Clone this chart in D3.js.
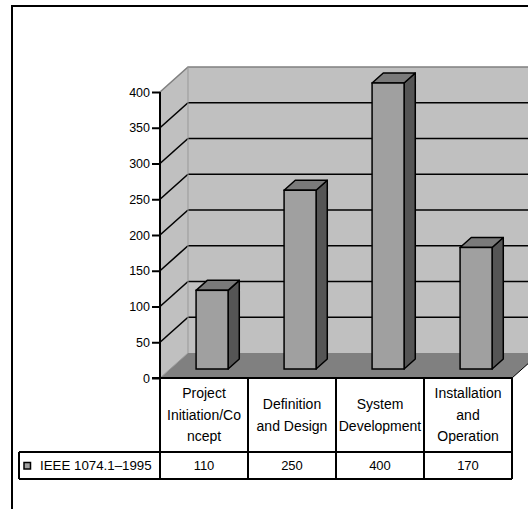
<!DOCTYPE html>
<html>
<head>
<meta charset="utf-8">
<script src="https://cdn.jsdelivr.net/npm/d3@7"></script>
<style>
  body { margin: 0; background: #fff; }
  svg { display: block; font-family: "Liberation Sans", Arial, sans-serif; }
</style>
</head>
<body>
<div id="chart"></div>
<script>
const width = 528;
const height = 509;

// data
const categories = ['Project Initiation/Concept', 'Definition and Design', 'System Development', 'Installation and Operation'];
const categoryLines = [
  ['Project', 'Initiation/Co', 'ncept'],
  ['Definition', 'and Design'],
  ['System', 'Development'],
  ['Installation', 'and', 'Operation']
];
const seriesName = 'IEEE 1074.1\u20131995';
const values = [110, 250, 400, 170];
const yTicks = [0, 50, 100, 150, 200, 250, 300, 350, 400];

// 3d depth offsets
const depthX = 28, depthY = -25;
const barZ0 = 0.36, barZ1 = 0.76;
const barW = 32;

const svg = d3.select('#chart')
  .append('svg')
  .attr('width', width)
  .attr('height', height);

const x = d3.scaleBand()
  .domain(categories)
  .range([160, 512]);

const y = d3.scaleLinear()
  .domain([0, 400])
  .range([378, 92]);

function px(xx, z) { return xx + depthX * z; }
function py(yy, z) { return yy + depthY * z; }
function pts(arr) { return arr.map(function(p){ return p.join(','); }).join(' '); }

// outer frame
svg.append('path')
  .attr('d', 'M12,' + height + ' L12,6 L' + width + ',6')
  .attr('fill', 'none')
  .attr('stroke', '#000')
  .attr('stroke-width', 2);

const x0 = x.range()[0], x1 = x.range()[1];
const wallRight = px(x1, 1);

// back wall
svg.append('rect')
  .attr('x', px(x0, 1))
  .attr('y', py(y(400), 1))
  .attr('width', wallRight - px(x0, 1))
  .attr('height', y(0) - y(400))
  .attr('fill', '#c0c0c0');

// left wall
svg.append('polygon')
  .attr('points', pts([[x0, y(400)], [px(x0, 1), py(y(400), 1)], [px(x0, 1), py(y(0), 1)], [x0, y(0)]]))
  .attr('fill', '#c0c0c0');

// floor
svg.append('polygon')
  .attr('points', pts([[x0, y(0)], [x1, y(0)], [px(x1, 1), py(y(0), 1)], [px(x0, 1), py(y(0), 1)]]))
  .attr('fill', '#808080');

// gridlines
const grid = svg.append('g');
yTicks.filter(function(d){ return d > 0 && d < 400; }).forEach(function(d){
  grid.append('line')
    .attr('x1', px(x0, 1)).attr('x2', wallRight)
    .attr('y1', py(y(d), 1)).attr('y2', py(y(d), 1))
    .attr('stroke', '#000').attr('stroke-width', 1.6);
  grid.append('line')
    .attr('x1', x0).attr('x2', px(x0, 1))
    .attr('y1', y(d)).attr('y2', py(y(d), 1))
    .attr('stroke', '#000').attr('stroke-width', 1.6);
});

// wall edges
svg.append('path')
  .attr('d', 'M' + x0 + ',' + y(400) + ' L' + px(x0, 1) + ',' + py(y(400), 1) + ' L' + wallRight + ',' + py(y(400), 1))
  .attr('fill', 'none').attr('stroke', '#808080').attr('stroke-width', 1.6);
svg.append('path')
  .attr('d', 'M' + px(x0, 1) + ',' + py(y(400), 1) + ' L' + px(x0, 1) + ',' + py(y(0), 1) + ' L' + x0 + ',' + y(0))
  .attr('fill', 'none').attr('stroke', '#999').attr('stroke-width', 1);

// bars
const bars = svg.append('g')
  .selectAll('.bar')
  .data(values)
  .enter()
  .append('g')
  .attr('class', 'bar');

function barLeft(i) { return x(categories[i]) + 26; }

bars.append('polygon')
  .attr('points', function(d, i){
    const l = barLeft(i), r = l + barW;
    return pts([[px(r, barZ0), py(y(0), barZ0)], [px(r, barZ1), py(y(0), barZ1)], [px(r, barZ1), py(y(d), barZ1)], [px(r, barZ0), py(y(d), barZ0)]]);
  })
  .attr('fill', '#555555').attr('stroke', '#000').attr('stroke-width', 1.5).attr('stroke-linejoin', 'round');

bars.append('polygon')
  .attr('points', function(d, i){
    const l = barLeft(i), r = l + barW;
    return pts([[px(l, barZ0), py(y(d), barZ0)], [px(r, barZ0), py(y(d), barZ0)], [px(r, barZ1), py(y(d), barZ1)], [px(l, barZ1), py(y(d), barZ1)]]);
  })
  .attr('fill', '#7a7a7a').attr('stroke', '#000').attr('stroke-width', 1.5).attr('stroke-linejoin', 'round');

bars.append('rect')
  .attr('x', function(d, i){ return px(barLeft(i), barZ0); })
  .attr('y', function(d){ return py(y(d), barZ0); })
  .attr('width', barW)
  .attr('height', function(d){ return y(0) - y(d); })
  .attr('fill', '#a0a0a0').attr('stroke', '#000').attr('stroke-width', 1.5);

// floor right edge
svg.append('line')
  .attr('x1', x1).attr('y1', y(0))
  .attr('x2', px(x1, 1)).attr('y2', py(y(0), 1))
  .attr('stroke', '#000').attr('stroke-width', 1);

// y axis
const yAxis = d3.axisLeft(y)
  .tickValues(yTicks)
  .tickSize(8)
  .tickPadding(2)
  .tickFormat(d3.format('d'));

const ax = svg.append('g')
  .attr('transform', 'translate(' + x0 + ',0)')
  .call(yAxis);
ax.select('.domain').remove();
ax.selectAll('.tick line').attr('stroke', '#000').attr('stroke-width', 2);
ax.selectAll('.tick text')
  .attr('font-family', '"Liberation Sans", Arial, sans-serif')
  .attr('font-size', 12.5)
  .attr('fill', '#000');

// data table
const rowTop = y(0), rowMid = 452, rowBot = 479, legendLeft = 19;
const table = svg.append('g')
  .attr('stroke', '#000').attr('stroke-width', 2).attr('fill', 'none');
table.append('line').attr('x1', x0 - 8).attr('x2', x1).attr('y1', rowTop).attr('y2', rowTop);
table.append('line').attr('x1', x0).attr('x2', x0).attr('y1', y(400)).attr('y2', rowBot);
table.append('line').attr('x1', legendLeft).attr('x2', x1).attr('y1', rowMid).attr('y2', rowMid);
table.append('line').attr('x1', legendLeft).attr('x2', x1).attr('y1', rowBot).attr('y2', rowBot);
table.append('line').attr('x1', legendLeft).attr('x2', legendLeft).attr('y1', rowMid).attr('y2', rowBot);
categories.forEach(function(c){
  const r = x(c) + x.bandwidth();
  table.append('line').attr('x1', r).attr('x2', r).attr('y1', rowTop).attr('y2', rowBot);
});

// category labels
const lineH = 21.5;
const labels = svg.append('g')
  .selectAll('.cat')
  .data(categoryLines)
  .enter()
  .append('text')
  .attr('class', 'cat')
  .attr('text-anchor', 'middle')
  .attr('font-size', 14)
  .attr('fill', '#000');
labels.each(function(lines, i){
  const cx = x(categories[i]) + x.bandwidth() / 2;
  const cy = (rowTop + rowMid) / 2 - (lines.length - 1) * lineH / 2;
  d3.select(this).selectAll('tspan')
    .data(lines)
    .enter()
    .append('tspan')
    .attr('x', cx)
    .attr('y', function(d, j){ return cy + j * lineH; })
    .attr('dy', '0.35em')
    .text(function(d){ return d; });
});

// values row
svg.append('g')
  .selectAll('.val')
  .data(values)
  .enter()
  .append('text')
  .attr('x', function(d, i){ return x(categories[i]) + x.bandwidth() / 2; })
  .attr('y', (rowMid + rowBot) / 2)
  .attr('dy', '0.35em')
  .attr('text-anchor', 'middle')
  .attr('font-size', 13)
  .text(function(d){ return d; });

// legend
svg.append('rect')
  .attr('x', 24).attr('y', 462.5)
  .attr('width', 6.5).attr('height', 6.5)
  .attr('fill', '#a0a0a0').attr('stroke', '#000').attr('stroke-width', 1.5);
svg.append('text')
  .attr('x', 40)
  .attr('y', (rowMid + rowBot) / 2)
  .attr('dy', '0.35em')
  .attr('font-size', 13.3)
  .text(seriesName);
</script>
</body>
</html>
